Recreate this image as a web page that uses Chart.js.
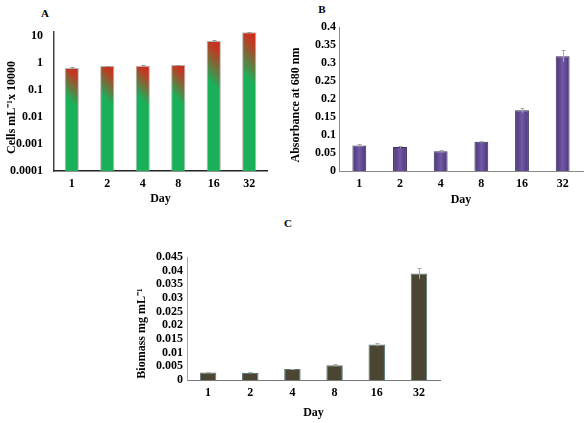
<!DOCTYPE html>
<html>
<head>
<meta charset="utf-8">
<script src="https://cdn.jsdelivr.net/npm/chart.js@4.4.1/dist/chart.umd.min.js"></script>
<style>
html,body{margin:0;padding:0;background:#fff;width:588px;height:423px;overflow:hidden;}
canvas{position:absolute;}
.lbl{position:absolute;font-family:'Liberation Serif',serif;font-weight:bold;font-size:11px;color:#000;transform:translate(-50%,-50%);}
</style>
</head>
<body>
<div class="lbl" style="left:45px;top:13px">A</div>
<div class="lbl" style="left:322px;top:9px">B</div>
<div class="lbl" style="left:288px;top:223px">C</div>
<canvas id="ca" width="284" height="210" style="left:0;top:0"></canvas>
<canvas id="cb" width="304" height="210" style="left:284px;top:0"></canvas>
<canvas id="cc" width="320" height="213" style="left:130px;top:210px"></canvas>
<script>
// ---- data ----
const days = ['1', '2', '4', '8', '16', '32'];
const cellsValues = [0.65, 0.77, 0.78, 0.84, 6.5, 13.8];
const cellsErrors = [0.04, 0.03, 0.03, 0.03, 0.3, 0.4];
const cellsTicks = [0.0001, 0.001, 0.01, 0.1, 1, 10];
const absValues = [0.071, 0.067, 0.055, 0.081, 0.169, 0.319];
const absErrors = [0.003, 0.003, 0.003, 0.003, 0.007, 0.016];
const bioValues = [0.0027, 0.0026, 0.0040, 0.0054, 0.0130, 0.0390];
const bioErrors = [0.0002, 0.0002, 0.0002, 0.0003, 0.0007, 0.0020];

Chart.defaults.font.family = "'Liberation Serif', 'Times New Roman', serif";
Chart.defaults.font.size = 12;
Chart.defaults.font.weight = 'bold';
Chart.defaults.color = '#000';
Chart.defaults.animation = false;

const errPlugin = {
  id: 'errbars',
  afterDatasetsDraw(chart, args, opts) {
    const errs = opts.errors; if (!errs) return;
    const meta = chart.getDatasetMeta(0);
    const ys = chart.scales.y;
    const vals = chart.data.datasets[0].data;
    const c = chart.ctx;
    c.save();
    c.strokeStyle = opts.color || '#888';
    c.lineWidth = 1;
    meta.data.forEach((bar, i) => {
      const v = vals[i], e = errs[i];
      const yTop = Math.round(ys.getPixelForValue(v + e)) + 0.5;
      const yBot = ys.getPixelForValue(Math.max(v - e, ys.min));
      const x = Math.round(bar.x) + 0.5;
      c.beginPath();
      c.moveTo(x, yTop); c.lineTo(x, yBot);
      c.moveTo(x - 2, yTop); c.lineTo(x + 2, yTop);
      c.stroke();
    });
    c.restore();
  }
};

function barGeom(ctx) {
  const ch = ctx.chart;
  const xs = ch.scales.x, ys = ch.scales.y;
  if (!xs || !ys || ctx.type !== 'data') return null;
  const ds = ch.data.datasets[0];
  const cw = (xs.right - xs.left) / ch.data.labels.length;
  const w = cw * ds.barPercentage * ds.categoryPercentage;
  const cx = xs.getPixelForValue(ctx.dataIndex);
  const top = ys.getPixelForValue(ctx.raw);
  const bot = ys.bottom;
  if (![cw, w, cx, top, bot].every(Number.isFinite) || w <= 0 || bot <= top) return null;
  return {cx, w, top, bot};
}

function axisTitle(text, pad) {
  return {display: true, text: text, padding: {top: pad, bottom: pad}, font: {size: 12, weight: 'bold'}};
}

// ---- Chart A ----
new Chart(document.getElementById('ca'), {
  type: 'bar',
  data: {
    labels: days,
    datasets: [{
      data: cellsValues,
      barPercentage: 0.4,
      categoryPercentage: 1,
      borderWidth: 1,
      borderColor: 'rgba(150,150,150,0.7)',
      borderSkipped: 'bottom',
      backgroundColor: ctx => {
        const g = barGeom(ctx);
        if (!g) return '#1aad5a';
        const D = (g.bot - g.top) * 0.2;
        const x0 = g.cx + g.w / 2;
        const grad = ctx.chart.ctx.createLinearGradient(x0, g.top, x0 - D, g.top + D);
        grad.addColorStop(0, 'rgb(214,38,22)');
        grad.addColorStop(0.3, 'rgb(185,62,36)');
        grad.addColorStop(1, 'rgb(26,176,90)');
        return grad;
      }
    }]
  },
  options: {
    responsive: false,
    layout: {padding: {left: 0, top: 32, right: 17, bottom: 0}},
    plugins: {legend: {display: false}, tooltip: {enabled: false}, errbars: {errors: cellsErrors, color: '#999'}},
    scales: {
      x: {
        grid: {display: false, drawTicks: false},
        border: {display: true, color: '#222', width: 1.5},
        ticks: {padding: 6},
        title: axisTitle('Day', 4),
        afterFit: s => { s.height = 39; }
      },
      y: {
        type: 'logarithmic',
        min: 0.0001, max: 14,
        grid: {display: false, drawTicks: false},
        border: {display: true, color: '#444', width: 1.5},
        ticks: {padding: 11, callback: v => String(v), autoSkip: false},
        afterBuildTicks: s => { s.ticks = cellsTicks.map(v => ({value: v})); },
        title: axisTitle('Cells mL\u207B\u00B9x 10000    ', 4.8),
        afterFit: s => { s.width = 54; }
      }
    }
  },
  plugins: [errPlugin]
});

// ---- Chart B ----
new Chart(document.getElementById('cb'), {
  type: 'bar',
  data: {
    labels: days,
    datasets: [{
      data: absValues,
      barPercentage: 0.34,
      categoryPercentage: 1,
      borderWidth: 1,
      borderColor: '#3b2d5c',
      borderSkipped: 'bottom',
      backgroundColor: ctx => {
        const g = barGeom(ctx);
        if (!g) return '#5e4892';
        const grad = ctx.chart.ctx.createLinearGradient(g.cx - g.w / 2, 0, g.cx + g.w / 2, 0);
        grad.addColorStop(0, '#4a3676');
        grad.addColorStop(0.5, '#7358a6');
        grad.addColorStop(1, '#4a3676');
        return grad;
      }
    }]
  },
  options: {
    responsive: false,
    layout: {padding: {left: 0, top: 27, right: 5, bottom: 0}},
    plugins: {legend: {display: false}, tooltip: {enabled: false}, errbars: {errors: absErrors, color: '#aaa'}},
    scales: {
      x: {
        grid: {display: false, drawTicks: false},
        border: {display: true, color: '#8a8a8a', width: 1},
        ticks: {padding: 6},
        title: axisTitle('Day', 3),
        afterFit: s => { s.height = 39; }
      },
      y: {
        min: 0, max: 0.4,
        grid: {display: false, drawTicks: false},
        border: {display: true, color: '#8a8a8a', width: 1},
        ticks: {padding: 3, stepSize: 0.05, callback: v => String(+v.toFixed(3)), autoSkip: false},
        title: axisTitle('Absorbance at 680 nm    ', 4.8),
        afterFit: s => { s.width = 55; }
      }
    }
  },
  plugins: [errPlugin]
});

// ---- Chart C ----
new Chart(document.getElementById('cc'), {
  type: 'bar',
  data: {
    labels: days,
    datasets: [{
      data: bioValues,
      barPercentage: 0.39,
      categoryPercentage: 1,
      borderWidth: 1,
      borderColor: '#5b7776',
      borderSkipped: 'bottom',
      backgroundColor: '#4a4631'
    }]
  },
  options: {
    responsive: false,
    layout: {padding: {left: 0, top: 47, right: 10, bottom: 0}},
    plugins: {legend: {display: false}, tooltip: {enabled: false}, errbars: {errors: bioErrors, color: '#aaa'}},
    scales: {
      x: {
        grid: {display: false, drawTicks: false},
        border: {display: true, color: '#777', width: 1},
        ticks: {padding: 6},
        title: axisTitle('Day', 3),
        afterFit: s => { s.height = 43; }
      },
      y: {
        min: 0, max: 0.045,
        grid: {display: false, drawTicks: false},
        border: {display: true, color: '#a8a8a8', width: 1},
        ticks: {padding: 4, stepSize: 0.005, callback: v => String(+v.toFixed(4)), autoSkip: false},
        title: axisTitle('Biomass mg mL\u207B\u00B9          ', 4.8),
        afterFit: s => { s.width = 57; }
      }
    }
  },
  plugins: [errPlugin]
});
</script>
</body>
</html>
